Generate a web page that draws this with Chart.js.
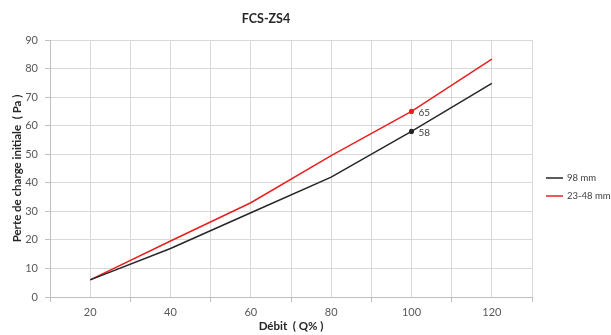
<!DOCTYPE html>
<html>
<head>
<meta charset="utf-8">
<script src="https://cdn.jsdelivr.net/npm/chart.js@4"></script>
<style>
  html, body { margin: 0; padding: 0; background: #fff; }
  #wrap { width: 611px; height: 335px; }
</style>
</head>
<body>
<div id="wrap"><canvas id="chart"></canvas></div>
<script>
const debit = [20, 40, 60, 80, 100, 120];
const perte98 = [6, 17, 29.5, 42, 58, 74.8];
const perte2348 = [6, 19.6, 33, 49.5, 65, 83.3];
const seriesNames = ['98 mm', '23-48 mm'];
const labelledIndex = 4; // point à 100 % avec étiquette

const FONT = 'Lato, "Open Sans", sans-serif';

function toPoints(ys) {
    return debit.map((x, i) => ({ x: x, y: ys[i] }));
}

// étiquettes de valeur + légende dessinées à la main
const extras = {
    id: 'extras',
    afterDatasetsDraw(chart) {
        const ctx = chart.ctx;
        ctx.save();
        ctx.font = '10px ' + FONT;
        ctx.fillStyle = '#404040';
        ctx.textBaseline = 'middle';
        chart.data.datasets.forEach((ds, i) => {
            const pt = chart.getDatasetMeta(i).data[labelledIndex];
            ctx.fillText(String(ds.data[labelledIndex].y), pt.x + 7, pt.y + 1);
        });

        // légende
        const lx = 546, ly = 178;
        ctx.font = '9.5px ' + FONT;
        chart.data.datasets.forEach((ds, i) => {
            const y = ly + i * 18;
            ctx.strokeStyle = ds.borderColor;
            ctx.lineWidth = 1.5;
            ctx.beginPath();
            ctx.moveTo(lx, y);
            ctx.lineTo(lx + 17, y);
            ctx.stroke();
            ctx.fillStyle = '#404040';
            ctx.fillText(ds.label, lx + 21, y);
        });
        ctx.restore();
    }
};

new Chart(document.getElementById('chart'), {
    type: 'line',
    data: {
        datasets: [
            {
                label: seriesNames[0],
                data: toPoints(perte98),
                borderColor: '#262626',
                backgroundColor: '#262626',
                borderWidth: 1.5,
                pointRadius: debit.map((_, i) => i === labelledIndex ? 1.8 : 0),
                tension: 0
            },
            {
                label: seriesNames[1],
                data: toPoints(perte2348),
                borderColor: '#e8201f',
                backgroundColor: '#e8201f',
                borderWidth: 1.5,
                pointRadius: debit.map((_, i) => i === labelledIndex ? 1.8 : 0),
                tension: 0
            }
        ]
    },
    options: {
        responsive: true,
        maintainAspectRatio: false,
        animation: false,
        layout: { padding: { left: 0, right: 79, top: 0, bottom: 0 } },
        plugins: {
            legend: { display: false },
            tooltip: { enabled: false },
            title: {
                display: true,
                text: 'FCS-ZS4',
                color: '#262626',
                font: { family: FONT, size: 12.5, weight: 'bold' },
                padding: { top: 11, bottom: 14 }
            }
        },
        scales: {
            x: {
                type: 'linear',
                min: 10,
                max: 130,
                ticks: {
                    stepSize: 10,
                    color: '#595959',
                    font: { family: FONT, size: 11 },
                    padding: 4,
                    maxRotation: 0,
                    autoSkip: false,
                    callback: v => (v % 20 === 0 ? v : '')
                },
                grid: {
                    color: '#d9d9d9',
                    tickLength: 5,
                    tickColor: c => (c.tick && c.tick.value % 20 === 0 ? 'rgba(0,0,0,0)' : '#bfbfbf')
                },
                border: { color: '#bfbfbf' },
                title: {
                    display: true,
                    text: 'Débit  ( Q% )',
                    color: '#262626',
                    font: { family: FONT, size: 11.5, weight: 'bold' },
                    padding: { top: 0, bottom: 2 }
                },
                afterFit: s => { s.height = 38; }
            },
            y: {
                min: 0,
                max: 90,
                ticks: {
                    stepSize: 10,
                    color: '#595959',
                    font: { family: FONT, size: 11 },
                    padding: 7
                },
                grid: {
                    color: '#d9d9d9',
                    tickLength: 5,
                    tickColor: '#bfbfbf'
                },
                border: { color: '#bfbfbf' },
                title: {
                    display: true,
                    text: 'Perte de charge initiale  ( Pa )',
                    color: '#262626',
                    font: { family: FONT, size: 11.5, weight: 'bold' },
                    padding: { top: 10, bottom: 4 }
                },
                afterFit: s => { s.width = 50; }
            }
        }
    },
    plugins: [extras]
});
</script>
</body>
</html>
